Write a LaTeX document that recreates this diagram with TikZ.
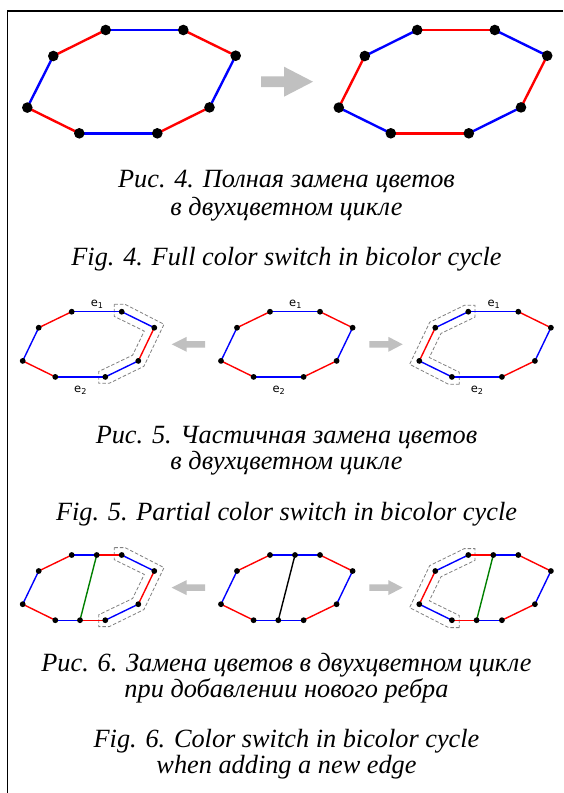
\documentclass[tikz,border=0pt]{standalone}
\usepackage{fontspec}
\setmainfont{Liberation Serif}
\newfontfamily\lblfont{DejaVu Sans}
\definecolor{grn}{RGB}{0,128,0}
\definecolor{arrowgray}{RGB}{192,192,192}
\newcommand\figfourcoords[1]{%
  \coordinate (#1-1) at (105.7,30);
  \coordinate (#1-2) at (183.3,30);
  \coordinate (#1-3) at (235.7,55.7);
  \coordinate (#1-4) at (209.5,107.4);
  \coordinate (#1-5) at (157.3,133.3);
  \coordinate (#1-6) at (79.3,133.3);
  \coordinate (#1-7) at (27.3,107.6);
  \coordinate (#1-8) at (53.3,56);}
\newcommand\octcoords[1]{%
  \coordinate (#1-1) at (71.7,311.7);
  \coordinate (#1-2) at (121.7,311.7);
  \coordinate (#1-3) at (154.3,327.7);
  \coordinate (#1-4) at (138.3,360.9);
  \coordinate (#1-5) at (105.3,376.9);
  \coordinate (#1-6) at (55.3,376.9);
  \coordinate (#1-7) at (22.7,360.9);
  \coordinate (#1-8) at (38.7,327.7);
  \coordinate (#1-c1) at (96.7,311.7);
  \coordinate (#1-c2) at (80.0,376.9);}
\newcommand\lefthull{%
  \draw[hull] (114.3,304.3) -- (125,304.3) -- (164,324.3) -- (143.9,366.3)
    -- (109.2,383.3) -- (98.7,383.3) -- (98.7,371.5) -- (132.6,355.2)
    -- (144.3,331.1) -- (114.3,316.4) -- cycle;}
\newcommand\righthull{%
  \draw[hull] (459.3,384.3) -- (448.6,384.3) -- (409.6,364.3) -- (429.7,322.3)
    -- (464.4,305.3) -- (474.9,305.3) -- (474.9,317.1) -- (441,333.4)
    -- (429.3,357.5) -- (459.3,372.2) -- cycle;}
\newcommand\leftarrowshape[1]{%
  \fill[arrowgray] (171.7,#1) -- (186.7,#1-7.5) -- (186.7,#1-3.3) -- (205,#1-3.3)
    -- (205,#1+3.3) -- (186.7,#1+3.3) -- (186.7,#1+7.5) -- cycle;}
\newcommand\rightarrowshape[1]{%
  \fill[arrowgray] (402.7,#1) -- (388.3,#1-7.5) -- (388.3,#1-3.3) -- (369.3,#1-3.3)
    -- (369.3,#1+3.3) -- (388.3,#1+3.3) -- (388.3,#1+7.5) -- cycle;}
\begin{document}
\begin{tikzpicture}[x=1pt,y=-1pt,
  bigdot/.style={circle,fill=black,inner sep=0pt,minimum size=10.6pt},
  smalldot/.style={circle,fill=black,inner sep=0pt,minimum size=5.8pt},
  bigE/.style={line width=2.4pt},
  smallE/.style={line width=1.4pt},
  hull/.style={draw=black!50,dash pattern=on 3.5pt off 2pt,line width=0.8pt},
  captext/.style={font=\fontsize{26.3}{28}\selectfont\itshape,anchor=base,inner sep=0pt},
  elabel/.style={font=\lblfont\fontsize{11.5}{13}\selectfont,anchor=base west,inner sep=0pt}
]
\useasboundingbox (0,0) rectangle (563,793);
\fill[white] (0,0) rectangle (563,793);
% frame
\draw[line width=1.1pt] (7.3,793) -- (7.3,11) -- (563,11);

% ---------- Fig. 4 ----------
\figfourcoords{P}
\begin{scope}[shift={(311.5,0)}]\figfourcoords{Q}\end{scope}
\foreach \i/\j/\c in {1/2/blue,2/3/red,3/4/blue,4/5/red,5/6/blue,6/7/red,7/8/blue,8/1/red}
  \draw[bigE,draw=\c] (P-\i) -- (P-\j);
\foreach \i/\j/\c in {1/2/red,2/3/blue,3/4/red,4/5/blue,5/6/red,6/7/blue,7/8/red,8/1/blue}
  \draw[bigE,draw=\c] (Q-\i) -- (Q-\j);
\foreach \i in {1,...,8} {\node[bigdot] (Pd\i) at (P-\i) {}; \node[bigdot] (Qd\i) at (Q-\i) {};}
\fill[arrowgray] (261,76.3) -- (284,76.3) -- (284,66.7) -- (313,81.7) -- (284,96.7)
  -- (284,87.1) -- (261,87.1) -- cycle;

\node[captext] (c4a) at (286.5,187) {Рис. 4. Полная замена цветов};
\node[captext] (c4b) at (286.5,215) {в двухцветном цикле};
\node[captext] (c4c) at (286.5,265) {Fig. 4. Full color switch in bicolor cycle};

% ---------- Fig. 5 ----------
\octcoords{A}
\begin{scope}[shift={(198.3,0)}]\octcoords{B}\end{scope}
\begin{scope}[shift={(396.6,0)}]\octcoords{C}\end{scope}
\lefthull
\righthull
\foreach \i/\j/\c in {1/2/blue,2/3/blue,3/4/red,4/5/blue,5/6/blue,6/7/red,7/8/blue,8/1/red}
  \draw[smallE,draw=\c] (A-\i) -- (A-\j);
\foreach \i/\j/\c in {1/2/blue,2/3/red,3/4/blue,4/5/red,5/6/blue,6/7/red,7/8/blue,8/1/red}
  \draw[smallE,draw=\c] (B-\i) -- (B-\j);
\foreach \i/\j/\c in {1/2/blue,2/3/red,3/4/blue,4/5/red,5/6/blue,6/7/blue,7/8/red,8/1/blue}
  \draw[smallE,draw=\c] (C-\i) -- (C-\j);
\foreach \i in {1,...,8} {\node[smalldot] (Ad\i) at (A-\i) {}; \node[smalldot] (Bd\i) at (B-\i) {}; \node[smalldot] (Cd\i) at (C-\i) {};}
\node[elabel] (Ae1) at (90.7,306.5) {e\textsubscript{1}};
\node[elabel] (Ae2) at (74,392.5) {e\textsubscript{2}};
\node[elabel] (Be1) at (289,306.5) {e\textsubscript{1}};
\node[elabel] (Be2) at (272.3,392.5) {e\textsubscript{2}};
\node[elabel] (Ce1) at (487.3,306.5) {e\textsubscript{1}};
\node[elabel] (Ce2) at (470.6,392.5) {e\textsubscript{2}};
\leftarrowshape{344.3}
\rightarrowshape{344.3}

\node[captext] (c5a) at (286.5,443) {Рис. 5. Частичная замена цветов};
\node[captext] (c5b) at (286.5,469) {в двухцветном цикле};
\node[captext] (c5c) at (286.5,520) {Fig. 5. Partial color switch in bicolor cycle};

% ---------- Fig. 6 ----------
\begin{scope}[shift={(0,243.3)}]
  \octcoords{D}
  \lefthull
  \righthull
\end{scope}
\begin{scope}[shift={(198.3,243.3)}]\octcoords{E}\end{scope}
\begin{scope}[shift={(396.6,243.3)}]\octcoords{F}\end{scope}
\foreach \i/\j/\c in {1/c1/blue,c1/2/red,2/3/blue,3/4/red,4/5/blue,5/c2/red,c2/6/blue,6/7/red,7/8/blue,8/1/red,c1/c2/grn}
  \draw[smallE,draw=\c] (D-\i) -- (D-\j);
\foreach \i/\j/\c in {1/c1/blue,c1/2/blue,2/3/red,3/4/blue,4/5/red,5/c2/blue,c2/6/blue,6/7/red,7/8/blue,8/1/red,c1/c2/black}
  \draw[smallE,draw=\c] (E-\i) -- (E-\j);
\foreach \i/\j/\c in {1/c1/red,c1/2/blue,2/3/red,3/4/blue,4/5/red,5/c2/blue,c2/6/red,6/7/blue,7/8/red,8/1/blue,c1/c2/grn}
  \draw[smallE,draw=\c] (F-\i) -- (F-\j);
\foreach \i in {1,...,8,c1,c2} {\node[smalldot] (Dd\i) at (D-\i) {}; \node[smalldot] (Ed\i) at (E-\i) {}; \node[smalldot] (Fd\i) at (F-\i) {};}
\leftarrowshape{587.6}
\rightarrowshape{587.6}

\node[captext] (c6a) at (286.5,671) {Рис. 6. Замена цветов в двухцветном цикле};
\node[captext] (c6b) at (286.5,697) {при добавлении нового ребра};
\node[captext] (c6c) at (286.5,747) {Fig. 6. Color switch in bicolor cycle};
\node[captext] (c6d) at (286.5,773) {when adding a new edge};
\end{tikzpicture}
\end{document}
